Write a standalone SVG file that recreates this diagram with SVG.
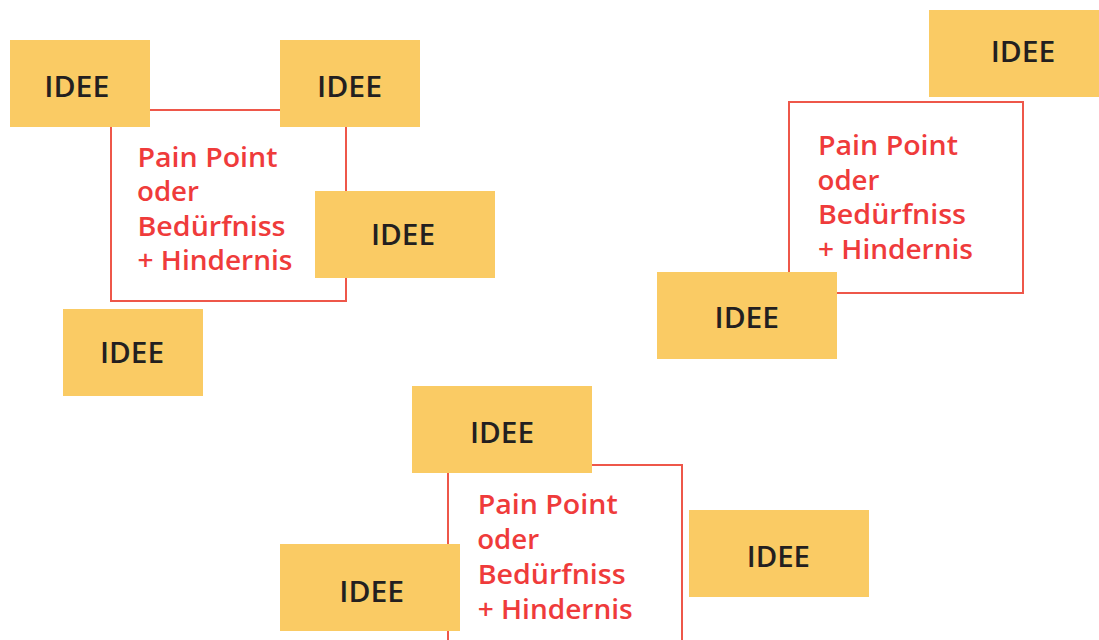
<svg xmlns="http://www.w3.org/2000/svg" width="1099" height="640" viewBox="0 0 1099 640">
<style>
.frame{fill:#ffffff;stroke:#EE574A;stroke-width:2}
.idee{fill:#FACB64}
.it{font-family:"Open Sans","Liberation Sans",sans-serif;font-weight:600;font-size:28px;fill:#231F20}
.pt{font-family:"Open Sans","Liberation Sans",sans-serif;font-weight:600;font-size:27px;fill:#EF3B3B}
</style>
<rect width="1099" height="640" fill="#ffffff"/>
<!-- Group 1 -->
<g id="problem1">
<rect class="frame" x="111" y="110" width="235" height="191"/>
<text class="pt" x="137.5" y="166.7" textLength="140" lengthAdjust="spacingAndGlyphs">Pain Point</text>
<text class="pt" x="137" y="201.2" textLength="62" lengthAdjust="spacingAndGlyphs">oder</text>
<text class="pt" x="137.5" y="235.7" textLength="148" lengthAdjust="spacingAndGlyphs">Bedürfniss</text>
<text class="pt" x="137.5" y="270.2" textLength="155" lengthAdjust="spacingAndGlyphs">+ Hindernis</text>
</g>
<g id="idee1a"><rect class="idee" x="10" y="40" width="140" height="87"/><text class="it" x="44.3" y="96.7" textLength="65" lengthAdjust="spacingAndGlyphs">IDEE</text></g>
<g id="idee1b"><rect class="idee" x="280" y="40" width="140" height="87"/><text class="it" x="317" y="96.7" textLength="65" lengthAdjust="spacingAndGlyphs">IDEE</text></g>
<g id="idee1c"><rect class="idee" x="315" y="191" width="180" height="87"/><text class="it" x="371" y="245" textLength="64" lengthAdjust="spacingAndGlyphs">IDEE</text></g>
<g id="idee1d"><rect class="idee" x="63" y="309" width="140" height="87"/><text class="it" x="100" y="363.3" textLength="64" lengthAdjust="spacingAndGlyphs">IDEE</text></g>
<!-- Group 2 -->
<g id="problem2">
<rect class="frame" x="789" y="102" width="234" height="191"/>
<text class="pt" x="818" y="155" textLength="140" lengthAdjust="spacingAndGlyphs">Pain Point</text>
<text class="pt" x="817.5" y="189.5" textLength="62" lengthAdjust="spacingAndGlyphs">oder</text>
<text class="pt" x="818" y="224" textLength="148" lengthAdjust="spacingAndGlyphs">Bedürfniss</text>
<text class="pt" x="818" y="258.5" textLength="155" lengthAdjust="spacingAndGlyphs">+ Hindernis</text>
</g>
<g id="idee2a"><rect class="idee" x="929" y="10" width="180" height="87"/><text class="it" x="990.7" y="61.7" textLength="64.5" lengthAdjust="spacingAndGlyphs">IDEE</text></g>
<g id="idee2b"><rect class="idee" x="657" y="272" width="180" height="87"/><text class="it" x="714.5" y="328.3" textLength="64.5" lengthAdjust="spacingAndGlyphs">IDEE</text></g>
<!-- Group 3 -->
<g id="problem3">
<rect class="frame" x="448" y="465" width="234" height="200"/>
<text class="pt" x="477.7" y="514" textLength="140" lengthAdjust="spacingAndGlyphs">Pain Point</text>
<text class="pt" x="477.2" y="548.5" textLength="62" lengthAdjust="spacingAndGlyphs">oder</text>
<text class="pt" x="477.7" y="584" textLength="148" lengthAdjust="spacingAndGlyphs">Bedürfniss</text>
<text class="pt" x="477.7" y="619.3" textLength="155" lengthAdjust="spacingAndGlyphs">+ Hindernis</text>
</g>
<g id="idee3a"><rect class="idee" x="412" y="386" width="180" height="87"/><text class="it" x="470" y="442.7" textLength="64" lengthAdjust="spacingAndGlyphs">IDEE</text></g>
<g id="idee3b"><rect class="idee" x="280" y="544" width="180" height="87"/><text class="it" x="339.3" y="601.7" textLength="64.7" lengthAdjust="spacingAndGlyphs">IDEE</text></g>
<g id="idee3c"><rect class="idee" x="689" y="510" width="180" height="87"/><text class="it" x="746.7" y="566.7" textLength="63.3" lengthAdjust="spacingAndGlyphs">IDEE</text></g>
</svg>
